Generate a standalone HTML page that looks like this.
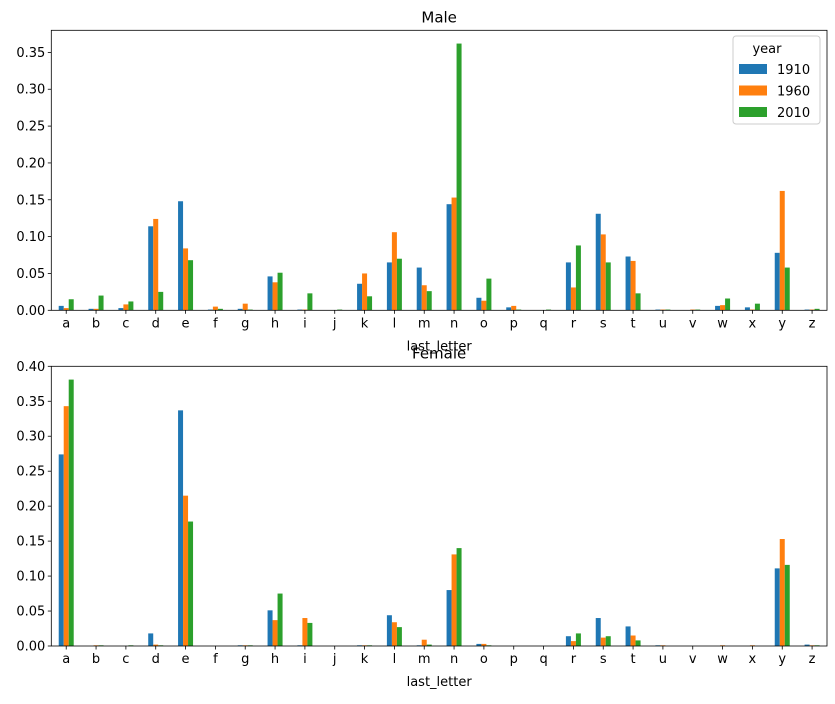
<!DOCTYPE html>
<html><head><meta charset="utf-8"><style>
body{margin:0;background:#fff}
svg text{font-family:"DejaVu Sans","Liberation Sans",sans-serif;fill:#000}
</style></head><body>
<svg id="s" width="835" height="699" xmlns="http://www.w3.org/2000/svg"></svg>
<script>
const L="abcdefghijklmnopqrstuvwxyz".split("");
const male=[[.006,.003,.015],[.002,.002,.020],[.003,.008,.012],[.114,.124,.025],[.148,.084,.068],[.001,.005,.002],[.002,.009,.001],[.046,.038,.051],[.001,.001,.023],[0,0,.001],[.036,.050,.019],[.065,.106,.070],[.058,.034,.026],[.144,.153,.362],[.017,.013,.043],[.004,.006,.001],[0,0,.001],[.065,.031,.088],[.131,.103,.065],[.073,.067,.023],[.001,.001,.001],[0,.001,.001],[.006,.007,.016],[.004,.001,.009],[.078,.162,.058],[.001,.001,.002]];
const fem=[[.274,.343,.381],[0,.001,.001],[0,0,.001],[.018,.002,.001],[.337,.215,.178],[0,0,0],[.001,.001,.001],[.051,.037,.075],[.001,.040,.033],[0,0,0],[.001,.001,.001],[.044,.034,.027],[.001,.009,.002],[.080,.131,.140],[.003,.003,.001],[0,0,0],[0,0,0],[.014,.007,.018],[.040,.012,.014],[.028,.015,.008],[.001,.001,0],[0,0,0],[0,.001,0],[0,.001,0],[.111,.153,.116],[.002,.001,.001]];
const C=["#1f77b4","#ff7f0e","#2ca02c"];
let h="";
const X0=51.3,X1=827,W=(X1-X0)/26;
function panel(top,bot,ymax,ticks,data,title){
  const sc=(bot-top)/ymax;
  data.forEach((d,i)=>{const cx=X0+W*(i+.5);
    d.forEach((v,j)=>{const bh=v*sc;h+=`<rect x="${cx-7.5+j*5}" y="${bot-bh}" width="5" height="${bh}" fill="${C[j]}"/>`;});
    h+=`<line x1="${cx}" x2="${cx}" y1="${bot}" y2="${bot+3.5}" stroke="#000" stroke-width="0.8"/><text x="${cx}" y="${bot+17}" font-size="13" text-anchor="middle">${L[i]}</text>`;});
  ticks.forEach(t=>{const y=bot-t*sc;h+=`<line x1="${X0-3.5}" x2="${X0}" y1="${y}" y2="${y}" stroke="#000" stroke-width="0.8"/><text x="${X0-6}" y="${y+4.5}" font-size="13" text-anchor="end">${t.toFixed(2)}</text>`;});
  h+=`<rect x="${X0}" y="${top}" width="${X1-X0}" height="${bot-top}" fill="none" stroke="#000" stroke-width="0.8"/>`;
  h+=`<text x="${(X0+X1)/2}" y="${bot+40}" font-size="13" text-anchor="middle">last_letter</text>`;
  h+=`<text x="${(X0+X1)/2}" y="${top-8}" font-size="15" text-anchor="middle">${title}</text>`;
}
panel(30.3,310.3,0.38,[0,.05,.1,.15,.2,.25,.3,.35],male,"Male");
panel(366.3,646,0.4,[0,.05,.1,.15,.2,.25,.3,.35,.4],fem,"Female");
h+=`<rect x="733" y="36" width="87" height="88" rx="3" fill="#fff" fill-opacity="0.8" stroke="#ccc"/>`;
h+=`<text x="767" y="53" font-size="13" text-anchor="middle">year</text>`;
["1910","1960","2010"].forEach((t,i)=>{const y=64+i*21.5;h+=`<rect x="739" y="${y}" width="28" height="10" fill="${C[i]}"/><text x="777" y="${y+10}" font-size="13">${t}</text>`;});
document.getElementById("s").innerHTML=h;
</script>
</body></html>
